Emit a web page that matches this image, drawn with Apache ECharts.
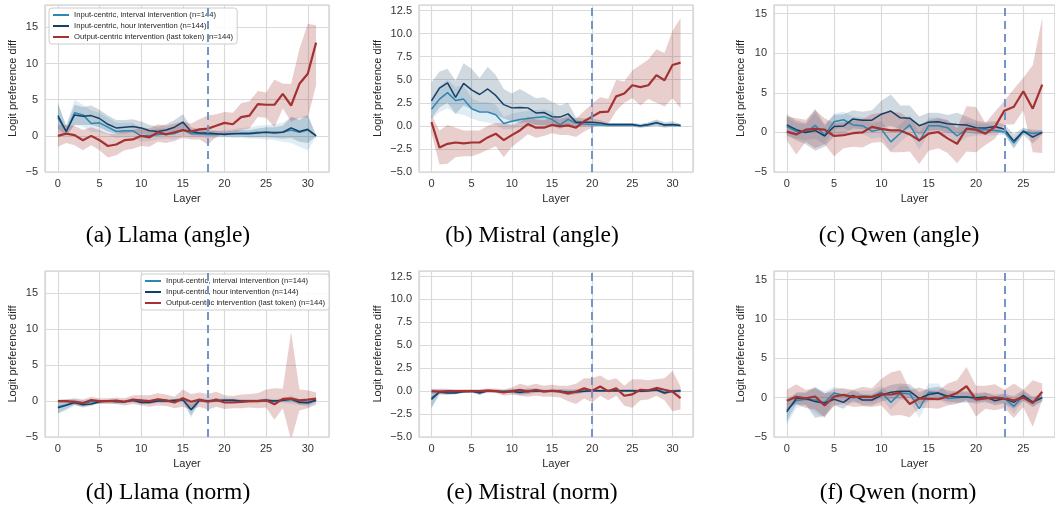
<!DOCTYPE html>
<html lang="en">
<head>
<meta charset="UTF-8">
<title>Logit preference diff per layer</title>
<script src="https://cdn.jsdelivr.net/npm/echarts@6.0.0/dist/echarts.min.js"></script>
<style>
    html, body { margin: 0; padding: 0; background: #fff; }
    #chart { width: 1055px; height: 517px; }
</style>
</head>
<body>
<div id="chart"></div>
<script>
// ---- (a) Llama (angle) ----
var aInt    = [2.5,0.6,3.2,2.9,1.7,1.8,1.2,0.6,0.7,0.7,0.0,0.0,0.2,0.3,0.3,0.8,0.3,0.3,0.2,0.2,0.3,0.3,0.4,0.4,0.5,0.5,0.5,0.5,0.8,0.5,0.8,0.0];
var aIntLo  = [0.5,0.0,1.5,1.3,0.5,0.5,0.2,-0.3,-0.2,-0.2,-0.8,-0.7,-0.5,-0.4,-0.5,0.0,-0.2,-0.2,-0.3,-0.3,-0.2,-0.3,-0.3,-0.4,-0.4,-0.5,-0.6,-0.8,-1.0,-1.5,-2.0,-0.1];
var aIntHi  = [4.5,1.5,5.0,4.3,3.5,3.2,2.5,1.8,1.8,1.8,1.0,0.8,1.0,1.0,1.2,1.8,0.9,0.8,0.7,0.7,0.8,0.9,1.1,1.2,1.4,1.5,1.6,1.8,2.6,2.5,3.0,0.1];
var aHour   = [2.8,0.6,2.9,2.7,2.8,2.4,1.6,1.1,1.2,1.3,1.1,0.7,0.6,0.8,1.2,1.9,0.6,0.4,0.4,0.3,0.2,0.3,0.3,0.3,0.4,0.5,0.4,0.5,1.1,0.6,0.9,0.0];
var aHourLo = [1.0,0.0,1.5,1.5,1.5,1.2,0.6,0.3,0.3,0.5,0.3,0.0,0.0,0.1,0.3,0.8,0.1,0.0,0.0,0.0,-0.1,-0.1,-0.1,-0.2,-0.2,-0.2,-0.3,-0.4,-0.3,-0.8,-1.0,-0.1];
var aHourHi = [4.5,1.3,4.3,4.0,4.2,3.6,2.8,2.2,2.2,2.3,2.0,1.5,1.3,1.6,2.2,3.0,1.2,0.9,0.8,0.7,0.6,0.7,0.8,0.8,1.0,1.2,1.2,1.4,2.6,2.2,2.8,0.1];
var aOut    = [0.0,0.3,0.1,-0.6,0.0,-0.6,-1.4,-1.2,-0.6,-0.5,0.0,-0.2,0.5,0.2,0.5,0.8,0.6,0.9,1.0,1.4,1.8,1.6,2.6,2.8,4.4,4.3,4.3,5.8,4.2,7.2,8.6,12.9];
var aOutLo  = [-1.5,-1.0,-1.3,-2.0,-1.3,-2.0,-3.0,-2.7,-2.0,-1.8,-1.4,-1.5,-0.8,-1.0,-0.7,-0.3,-0.5,-0.5,-1.2,-0.2,0.3,0.2,0.8,1.0,2.6,2.5,1.2,3.8,2.0,2.5,2.5,7.0];
var aOutHi  = [1.5,1.5,1.4,0.8,1.2,0.8,0.3,0.3,0.8,0.8,1.2,1.0,1.6,1.4,1.7,2.0,1.7,2.3,2.8,3.0,3.3,3.2,4.5,4.8,6.2,6.0,7.8,7.2,7.2,12.0,15.5,15.3];

// ---- (b) Mistral (angle) ----
var bInt    = [1.8,2.9,3.6,2.75,2.9,1.85,1.5,1.5,1.2,0.25,0.5,0.7,0.8,0.9,1.0,0.7,0.1,0.7,0.3,0.2,0.15,0.1,0.1,0.1,0.1,0.1,0.0,0.1,0.3,0.1,0.1,0.05];
var bIntLo  = [0.7,1.5,1.9,1.3,1.2,0.8,0.5,0.4,0.1,-0.4,-0.3,-0.1,0.0,0.1,0.1,0.0,-0.4,0.1,-0.1,-0.1,-0.1,-0.1,-0.1,-0.1,-0.1,-0.1,-0.2,-0.1,0.0,-0.1,-0.1,-0.1];
var bIntHi  = [3.0,4.3,5.0,4.2,4.4,3.0,2.6,2.6,2.3,1.0,1.3,1.5,1.6,1.7,1.8,1.5,0.6,1.3,0.7,0.5,0.4,0.3,0.3,0.3,0.3,0.3,0.2,0.3,0.6,0.3,0.3,0.2];
var bHour   = [2.7,4.1,4.65,3.1,4.6,3.9,3.4,4.0,3.3,2.3,1.95,2.0,1.95,1.4,1.45,1.0,0.95,1.3,0.4,0.4,0.4,0.3,0.15,0.15,0.15,0.15,0.0,0.15,0.35,0.1,0.15,0.05];
var bHourLo = [0.8,2.0,2.5,1.3,2.2,1.8,1.6,1.6,1.2,0.8,0.5,0.3,0.4,0.1,0.0,0.0,-0.1,0.0,-0.1,0.0,0.0,0.0,-0.1,-0.1,-0.1,-0.1,-0.2,-0.1,0.0,-0.2,-0.1,-0.1];
var bHourHi = [4.7,5.9,6.2,4.9,6.8,6.2,5.2,6.4,5.5,4.0,3.5,4.0,3.5,3.0,3.1,2.6,2.2,2.5,0.9,0.8,0.8,0.6,0.3,0.3,0.3,0.3,0.2,0.4,0.7,0.4,0.5,0.2];
var bOut    = [0.4,-2.35,-1.95,-1.8,-1.9,-1.8,-1.8,-1.25,-0.85,-1.55,-1.0,-0.5,0.2,-0.2,-0.2,0.1,-0.05,0.05,-0.2,0.5,1.0,1.5,1.55,3.2,3.5,4.4,4.2,4.4,5.5,4.95,6.6,6.85];
var bOutLo  = [-0.8,-4.2,-4.1,-3.4,-3.3,-3.3,-3.0,-2.6,-2.2,-3.4,-2.3,-1.6,-0.9,-1.3,-1.1,-0.8,-1.0,-1.0,-1.2,-0.6,-0.2,0.2,0.2,1.6,2.5,3.0,2.2,2.9,2.5,2.1,3.0,1.9];
var bOutHi  = [1.2,-0.5,0.1,-0.2,-0.5,-0.5,-0.5,0.0,0.3,0.3,0.1,0.4,1.0,0.7,0.6,0.9,0.8,1.0,0.8,1.6,2.4,3.1,2.9,5.0,4.8,6.0,6.6,7.2,8.3,7.9,10.3,11.7];

// ---- (c) Qwen (angle) ----
var cInt    = [0.75,0.15,0.0,0.9,-0.35,1.35,1.6,0.95,0.85,0.15,0.4,-1.2,-0.1,0.95,-1.1,0.85,0.85,0.6,-0.45,0.4,0.35,0.35,0.25,0.1,-1.35,0.15,-0.15,0.0];
var cIntLo  = [-0.5,-0.8,-1.0,-0.8,-1.5,0.4,0.6,-0.1,-0.2,-0.8,-0.6,-2.4,-1.2,-0.2,-2.2,-0.2,-0.2,-0.4,-1.5,-0.6,-0.4,-0.4,-0.4,-0.3,-2.0,-0.2,-0.7,-0.2];
var cIntHi  = [2.0,1.2,1.0,2.5,0.8,2.4,2.6,2.0,1.9,1.2,1.4,0.0,1.0,2.2,0.0,1.9,1.9,1.6,0.6,1.4,1.1,1.1,0.9,0.5,-0.7,0.5,0.4,0.2];
var cHour   = [0.95,0.35,0.0,0.25,-0.45,0.75,0.8,1.7,1.55,1.55,2.3,2.7,1.85,1.8,0.85,1.3,1.35,1.1,1.0,0.95,0.6,0.55,0.75,0.4,-1.1,0.15,-0.6,0.0];
var cHourLo = [-0.3,-1.0,-1.5,-2.3,-1.8,-0.5,-0.2,0.5,0.4,0.3,0.6,0.8,0.4,0.5,-0.3,0.2,0.3,0.0,-0.2,0.0,-0.2,-0.2,0.1,-0.2,-2.0,-0.3,-1.4,-0.3];
var cHourHi = [2.3,1.5,1.2,3.0,1.0,2.2,2.3,2.8,2.6,2.8,4.0,4.8,3.4,3.4,2.0,2.5,2.5,2.2,2.5,2.0,1.5,1.3,1.4,1.0,-0.2,0.6,0.2,0.3];
var cOut    = [0.1,-0.25,0.35,0.45,0.35,-0.45,-0.35,-0.1,0.0,0.7,0.45,0.25,0.25,-0.25,-1.0,-0.15,0.05,-0.75,-1.45,0.5,0.35,-0.15,0.7,2.75,3.25,5.2,3.0,6.05];
var cOutLo  = [-1.0,-2.8,-1.2,-2.0,-1.5,-3.0,-2.0,-1.8,-1.9,-1.3,-1.2,-2.5,-2.5,-2.4,-4.0,-2.3,-2.0,-2.6,-3.9,-2.4,-2.5,-1.6,-0.8,1.0,1.0,2.8,-2.5,-2.6];
var cOutHi  = [2.0,1.8,1.6,2.8,1.8,1.2,1.3,1.5,1.7,2.3,2.5,2.6,2.5,1.7,0.9,1.5,1.8,1.5,0.6,3.3,3.2,1.2,2.6,4.0,5.5,6.9,8.5,14.5];

// ---- (d) Llama (norm) ----
var dInt    = [-0.8,-0.5,-0.2,-0.3,-0.1,0.0,0.0,-0.1,-0.05,0.1,-0.1,-0.1,0.1,0.05,0.0,0.2,-1.2,0.1,0.05,0.1,0.1,0.1,0.0,0.0,0.0,0.1,0.0,0.1,0.2,-0.1,-0.3,0.1];
var dIntLo  = [-1.8,-1.3,-0.6,-0.8,-0.5,-0.3,-0.3,-0.4,-0.3,-0.2,-0.4,-0.4,-0.2,-0.3,-0.3,-0.2,-2.3,-0.2,-0.3,-0.2,-0.2,-0.2,-0.3,-0.3,-0.3,-0.2,-0.3,-0.2,-0.4,-0.5,-0.8,-0.2];
var dIntHi  = [0.2,0.2,0.5,0.2,0.3,0.2,0.2,0.2,0.2,0.4,0.2,0.2,0.4,0.3,0.3,0.6,-0.1,0.4,0.3,0.4,0.4,0.4,0.3,0.3,0.3,0.4,0.3,0.4,0.8,0.3,0.2,0.4];
var dHour   = [-0.95,-0.6,-0.2,-0.5,-0.4,-0.1,0.0,-0.05,-0.1,0.1,-0.2,-0.2,0.0,0.0,0.1,0.2,-1.2,0.1,0.0,0.05,0.1,0.1,0.0,0.0,0.05,0.1,0.0,0.1,0.3,-0.2,-0.2,0.1];
var dHourLo = [-1.7,-1.1,-0.5,-0.9,-0.7,-0.3,-0.2,-0.3,-0.3,-0.1,-0.4,-0.4,-0.2,-0.2,-0.1,0.0,-2.0,-0.1,-0.2,-0.1,-0.1,-0.1,-0.2,-0.2,-0.1,-0.1,-0.2,-0.1,0.0,-0.5,-0.5,-0.1];
var dHourHi = [-0.2,-0.1,0.2,-0.1,-0.1,0.1,0.2,0.2,0.1,0.3,0.0,0.0,0.2,0.2,0.3,0.4,-0.4,0.3,0.2,0.2,0.3,0.3,0.2,0.2,0.2,0.3,0.2,0.3,0.6,0.1,0.1,0.3];
var dOut    = [0.0,0.0,-0.1,-0.3,0.15,0.0,0.0,0.05,-0.1,0.2,0.1,0.0,0.25,0.1,-0.2,0.4,-0.1,0.2,-0.1,0.2,-0.2,-0.2,-0.1,0.0,0.0,0.1,-0.45,0.3,0.35,0.1,0.2,0.35];
var dOutLo  = [-0.2,-0.3,-0.5,-0.7,-0.3,-0.4,-0.4,-0.4,-0.6,-0.4,-0.6,-0.8,-0.6,-0.7,-1.0,-0.8,-1.2,-0.8,-1.2,-0.8,-1.1,-1.0,-1.0,-0.9,-1.0,-0.9,-2.6,-1.0,-5.4,-1.3,-1.0,-0.5];
var dOutHi  = [0.2,0.3,0.3,0.2,0.6,0.4,0.4,0.5,0.4,0.8,0.8,0.8,1.1,0.9,0.6,1.6,1.0,1.2,1.0,1.3,0.8,0.7,0.9,1.0,1.1,1.6,1.8,1.7,9.6,1.6,1.5,1.2];

// ---- (e) Mistral (norm) ----
var eInt    = [-0.7,-0.1,-0.1,-0.15,-0.05,0.0,-0.15,0.05,0.0,-0.05,0.0,-0.1,0.0,0.05,0.0,0.0,0.0,-0.1,-0.05,0.0,0.05,0.05,0.05,0.05,0.05,0.05,0.0,0.05,0.15,-0.15,0.0,0.05];
var eIntLo  = [-1.9,-0.4,-0.4,-0.3,-0.2,-0.15,-0.4,-0.1,-0.15,-0.2,-0.2,-0.4,-0.3,-0.15,-0.15,-0.15,-0.2,-0.4,-0.3,-0.15,-0.1,-0.1,-0.1,-0.1,-0.1,-0.1,-0.15,-0.1,0.0,-0.35,-0.15,-0.1];
var eIntHi  = [0.2,0.3,0.3,0.1,0.1,0.15,0.1,0.2,0.15,0.1,0.2,0.2,0.3,0.25,0.15,0.15,0.2,0.2,0.2,0.15,0.2,0.2,0.2,0.2,0.2,0.2,0.15,0.2,0.3,0.05,0.15,0.2];
var eHour   = [-0.9,-0.1,-0.2,-0.2,-0.05,0.0,-0.2,0.05,0.0,-0.05,0.0,-0.15,0.0,0.05,0.0,0.0,0.0,-0.15,-0.1,0.0,0.05,0.05,0.05,0.05,0.05,0.05,0.0,0.05,0.15,-0.2,0.0,0.05];
var eHourLo = [-1.8,-0.35,-0.4,-0.35,-0.2,-0.15,-0.45,-0.1,-0.15,-0.2,-0.2,-0.4,-0.3,-0.15,-0.15,-0.15,-0.2,-0.45,-0.35,-0.15,-0.1,-0.1,-0.1,-0.1,-0.1,-0.1,-0.15,-0.1,0.0,-0.4,-0.15,-0.1];
var eHourHi = [-0.1,0.15,0.1,0.0,0.1,0.15,0.05,0.2,0.15,0.1,0.2,0.15,0.3,0.25,0.15,0.15,0.2,0.15,0.15,0.15,0.2,0.2,0.2,0.2,0.2,0.2,0.15,0.2,0.3,0.0,0.15,0.2];
var eOut    = [0.0,-0.05,0.0,0.0,0.0,0.0,0.0,0.05,0.0,-0.15,0.0,0.15,-0.05,0.15,-0.05,0.05,-0.05,-0.25,-0.05,0.3,0.05,0.5,0.0,0.3,-0.5,-0.35,0.15,0.1,0.35,0.15,-0.05,-0.75];
var eOutLo  = [-0.3,-0.3,-0.3,-0.2,-0.2,-0.2,-0.2,-0.2,-0.2,-0.5,-0.4,-0.5,-0.6,-0.5,-0.6,-0.6,-0.7,-1.1,-1.4,-0.8,-1.2,-0.5,-1.0,-0.5,-1.6,-1.8,-1.0,-0.9,-0.5,-1.0,-2.2,-2.0];
var eOutHi  = [0.3,0.2,0.2,0.2,0.2,0.2,0.2,0.3,0.3,0.2,0.4,0.8,0.6,0.8,0.6,0.7,0.6,0.6,0.8,1.4,1.4,1.7,1.2,1.4,0.6,1.3,1.3,1.2,1.3,1.4,2.2,0.5];

// ---- (f) Qwen (norm) ----
var fInt    = [-1.6,-0.4,-0.2,-0.3,-0.6,0.6,0.3,0.0,0.2,0.1,0.7,-0.6,0.6,0.5,-1.4,0.7,0.6,-0.1,0.0,0.1,-0.2,0.0,-0.1,-0.1,-1.1,0.2,-0.5,0.0];
var fIntLo  = [-3.5,-1.3,-1.0,-2.0,-2.6,-0.2,-0.5,-0.7,-0.5,-0.6,-0.1,-1.5,-0.3,-0.4,-2.6,-0.3,-0.3,-0.8,-0.7,-0.5,-0.8,-0.6,-0.7,-0.7,-2.0,-0.4,-1.2,-0.4];
var fIntHi  = [0.0,0.5,0.6,1.2,0.8,1.4,1.1,0.8,0.9,0.9,1.5,0.3,1.5,1.4,-0.4,1.8,1.8,0.6,0.7,0.7,0.4,0.6,0.5,0.5,-0.3,0.8,0.2,0.4];
var fHour   = [-1.8,-0.1,-0.1,-0.5,-0.7,-0.2,-0.6,0.3,-0.3,-0.3,0.3,0.7,0.8,0.8,-0.1,0.4,0.6,0.2,0.1,0.1,0.0,0.1,-0.4,-0.1,-0.6,0.3,-0.6,0.0];
var fHourLo = [-3.0,-0.9,-0.9,-2.6,-2.3,-1.0,-1.4,-0.4,-1.0,-1.0,-0.5,-0.2,-0.1,0.0,-0.9,-0.4,-0.2,-0.5,-0.6,-0.6,-0.6,-0.5,-1.0,-0.7,-1.4,-0.4,-1.2,-0.5];
var fHourHi = [-0.6,0.7,0.7,1.4,0.6,0.7,0.3,1.0,0.4,0.4,1.1,1.6,1.8,1.7,0.7,1.2,1.4,0.9,0.8,0.8,0.6,0.7,0.2,0.5,0.2,1.0,0.0,0.5];
var fOut    = [-0.4,0.1,-0.1,0.15,-1.0,0.15,0.35,0.1,0.1,0.1,0.45,0.4,0.6,-0.8,-0.1,-0.15,-0.2,0.15,0.6,1.45,-0.25,-0.1,0.0,-0.1,-0.35,0.0,-0.7,0.75];
var fOutLo  = [-1.5,-0.8,-1.3,-1.5,-2.5,-1.0,-0.8,-1.2,-1.1,-1.2,-1.0,-2.3,-2.2,-2.5,-1.3,-1.3,-1.4,-1.0,-0.8,-0.3,-2.4,-1.4,-1.6,-1.3,-2.6,-1.2,-3.7,-0.3];
var fOutHi  = [1.0,1.7,1.0,1.2,0.5,1.1,1.2,1.0,1.4,1.2,2.4,3.2,3.5,1.0,1.3,0.9,0.9,1.8,2.2,3.9,1.5,1.5,1.7,1.0,1.8,1.0,2.2,1.8];

var seriesNames = ['Input-centric, interval intervention (n=144)', 'Input-centric, hour intervention (n=144)', 'Output-centric intervention (last token) (n=144)'];
var captions = ['(a) Llama (angle)', '(b) Mistral (angle)', '(c) Qwen (angle)', '(d) Llama (norm)', '(e) Mistral (norm)', '(f) Qwen (norm)'];
var splitLayer = [18, 20, 23, 18, 20, 23];

var panels = [
    [[aInt, aIntLo, aIntHi], [aHour, aHourLo, aHourHi], [aOut, aOutLo, aOutHi]],
    [[bInt, bIntLo, bIntHi], [bHour, bHourLo, bHourHi], [bOut, bOutLo, bOutHi]],
    [[cInt, cIntLo, cIntHi], [cHour, cHourLo, cHourHi], [cOut, cOutLo, cOutHi]],
    [[dInt, dIntLo, dIntHi], [dHour, dHourLo, dHourHi], [dOut, dOutLo, dOutHi]],
    [[eInt, eIntLo, eIntHi], [eHour, eHourLo, eHourHi], [eOut, eOutLo, eOutHi]],
    [[fInt, fIntLo, fIntHi], [fHour, fHourLo, fHourHi], [fOut, fOutLo, fOutHi]]
];

var colors = ['#2e86b2', '#163f66', '#a33232'];
var bandOpacity = [0.15, 0.2, 0.24];
var lineWidths = [1.5, 1.5, 2.2];
var FONT = '"Liberation Sans", Arial, sans-serif';

// layout of the 6 panels (px)
var grids = [
    { left: 45, top: 5, width: 284, height: 167 },
    { left: 419, top: 5, width: 274, height: 167 },
    { left: 774, top: 5, width: 284, height: 167 },
    { left: 45, top: 271, width: 284, height: 166 },
    { left: 419, top: 271, width: 274, height: 166 },
    { left: 774, top: 271, width: 284, height: 166 }
];
var xRange = [[-1.55, 32.55], [-1.55, 32.55], [-1.35, 28.35]];
var yRange = [[-5, 18.1, 5, 0], [-5, 13.1, 2.5, 1], [-5, 16.1, 5, 0]];
var yNameGap = [27, 36, 28];
var capPos = [[168, 236], [532, 236], [899, 236], [168, 493], [532, 493], [898, 493]];

function fmt(dec) {
    return function (v) {
        return (v < 0 ? '\u2212' : '') + Math.abs(v).toFixed(dec);
    };
}

var xAxes = [], yAxes = [], series = [];
grids.forEach(function (g, i) {
    g.show = true;
    g.borderColor = '#cccccc';
    g.borderWidth = 1.2;
    var col = i % 3;
    xAxes.push({
        gridIndex: i, type: 'value', min: xRange[col][0], max: xRange[col][1],
        name: 'Layer', nameLocation: 'middle', nameGap: 21,
        nameTextStyle: { fontSize: 11, color: '#262626', fontFamily: FONT },
        axisLine: { show: false }, axisTick: { show: false },
        axisLabel: { fontSize: 11, color: '#333', fontFamily: FONT, margin: 6, showMinLabel: false, showMaxLabel: false, formatter: fmt(0) },
        splitLine: { lineStyle: { color: '#dadada', width: 1.2 } }
    });
    yAxes.push({
        gridIndex: i, type: 'value', min: yRange[col][0], max: yRange[col][1], interval: yRange[col][2],
        name: 'Logit preference diff', nameLocation: 'middle', nameRotate: 90, nameGap: yNameGap[col],
        nameTextStyle: { fontSize: 11, color: '#262626', fontFamily: FONT },
        axisLine: { show: false }, axisTick: { show: false },
        axisLabel: { fontSize: 11, color: '#333', fontFamily: FONT, margin: 7, showMaxLabel: false, formatter: fmt(yRange[col][3]) },
        splitLine: { lineStyle: { color: '#dadada', width: 1.2 } }
    });
});

// confidence band drawn as one polygon through the axis scales
function bandSeries(g, lo, hi, color, opacity) {
    return {
        type: 'custom', xAxisIndex: g, yAxisIndex: g, silent: true, clip: true, z: 1,
        data: lo.map(function (v, i) { return [i, v, hi[i]]; }),
        encode: { x: 0, y: [1, 2] },
        renderItem: function (params, api) {
            if (params.dataIndex !== 0) return null;
            var pts = [], i;
            for (i = 0; i < hi.length; i++) pts.push(api.coord([i, hi[i]]));
            for (i = lo.length - 1; i >= 0; i--) pts.push(api.coord([i, lo[i]]));
            return { type: 'polygon', shape: { points: pts }, style: { fill: color, opacity: opacity } };
        }
    };
}

panels.forEach(function (p, g) {
    p.forEach(function (s, k) {
        series.push(bandSeries(g, s[1], s[2], colors[k], bandOpacity[k]));
    });
    p.forEach(function (s, k) {
        var line = {
            type: 'line', name: seriesNames[k], xAxisIndex: g, yAxisIndex: g,
            symbol: 'none', z: 3, color: colors[k],
            lineStyle: { width: lineWidths[k], color: colors[k] },
            data: s[0].map(function (v, i) { return [i, v]; })
        };
        if (k === 2) {
            line.markLine = {
                silent: true, symbol: ['none', 'none'], label: { show: false },
                lineStyle: { color: '#7594c8', width: 2, type: [8, 5] },
                data: [{ xAxis: splitLayer[g] }]
            };
        }
        series.push(line);
    });
});

function legendAt(left, top) {
    return {
        left: left, top: top, orient: 'vertical', selectedMode: false,
        itemWidth: 16, itemHeight: 2, itemGap: 3, padding: [3, 4],
        backgroundColor: 'rgba(255,255,255,0.85)', borderColor: '#cccccc', borderWidth: 1, borderRadius: 3,
        textStyle: { fontSize: 7.7, color: '#262626', fontFamily: FONT },
        data: seriesNames.map(function (n) { return { name: n, icon: 'rect' }; })
    };
}

var chart = echarts.init(document.getElementById('chart'));
chart.setOption({
    animation: false,
    backgroundColor: '#ffffff',
    grid: grids,
    xAxis: xAxes,
    yAxis: yAxes,
    legend: [legendAt(49, 8), legendAt(141, 274)],
    graphic: captions.map(function (t, i) {
        return {
            type: 'text', x: capPos[i][0], y: capPos[i][1], silent: true,
            style: { text: t, fill: '#000', font: '23.5px "Liberation Serif", "Times New Roman", serif', align: 'center', textAlign: 'center', verticalAlign: 'middle', textVerticalAlign: 'middle' }
        };
    }),
    series: series
});
</script>
</body>
</html>
